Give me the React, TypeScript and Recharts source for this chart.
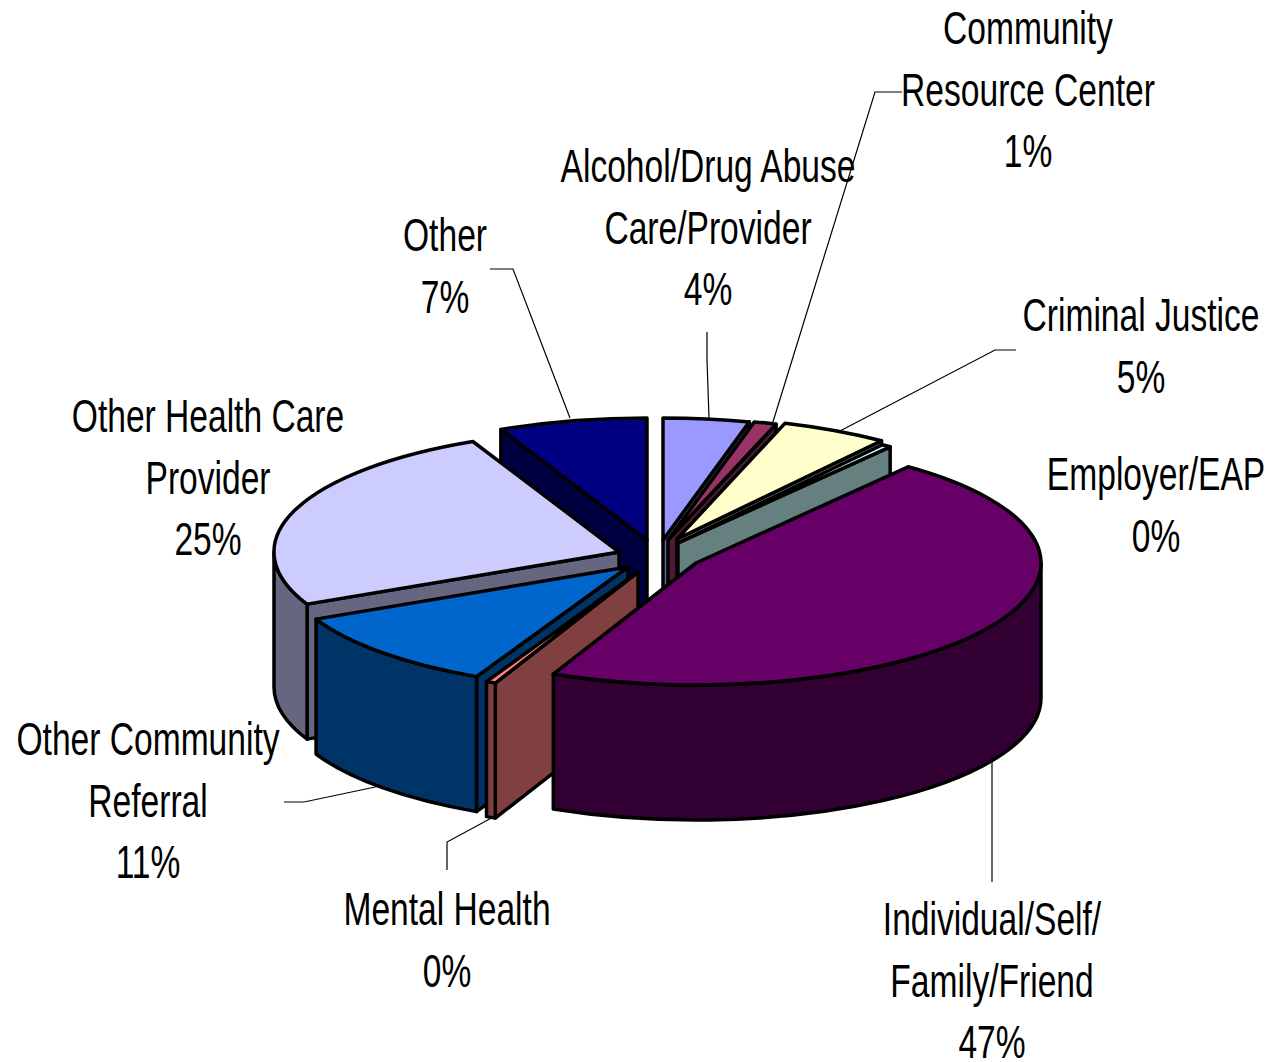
import React from "react";
import { PieChart, Pie } from "recharts";

const categories = ["Alcohol/Drug Abuse Care/Provider", "Community Resource Center", "Criminal Justice", "Employer/EAP", "Individual/Self/Family/Friend", "Mental Health", "Other Community Referral", "Other Health Care Provider", "Other"];
const shares = [4.05, 1.05, 5.05, 0.45, 46.5, 0.45, 10.8, 25.2, 7.0];
const percentLabels = ["4%", "1%", "5%", "0%", "47%", "0%", "11%", "25%", "7%"];
const labelLines = [
  ["Alcohol/Drug Abuse", "Care/Provider"],
  ["Community", "Resource Center"],
  ["Criminal Justice"],
  ["Employer/EAP"],
  ["Individual/Self/", "Family/Friend"],
  ["Mental Health"],
  ["Other Community", "Referral"],
  ["Other Health Care", "Provider"],
  ["Other"],
];
const topColors = ["#9999FF", "#993366", "#FFFFCC", "#CCFFFF", "#660066", "#FF8080", "#0066CC", "#CCCCFF", "#000080"];
const wallColors = ["#666699", "#4D1A33", "#808066", "#668080", "#330033", "#804040", "#003366", "#666680", "#000040"];

// back-to-front painting order of the slices
const paintOrder = [0, 1, 2, 3, 8, 7, 6, 5, 4];
// how far each slice is pulled out of the pie
const explode = [[13, 0], [18, 0], [27, -1], [28, 3], [46, 23], [-12, 32], [-22, 27], [-31, 12], [-3, 0]];
// where each label's first line sits, and its leader line
const labelAnchor = [[708, 182], [1028, 44], [1141, 331], [1156, 490], [992, 935], [447, 925], [148, 755], [208, 432], [445, 251]];
const leaders = [
  "707,332 707,360 709,418",
  "902,92 875,92 772,425",
  "1016,350 995,350 838,432",
  "",
  "992,882 992,757",
  "447,870 447,842 497,815",
  "284,802 304,802 380,786",
  "",
  "490,269 513,269 570,418",
];

const rows = categories.map((name, i) => ({ name, value: shares[i], percent: percentLabels[i] }));

const CX = 650;
const CY = 540;
const RX = 345;
const SQUASH = 122 / 345;
const DEPTH = 135;
const LINE = 61.5;
const RAD = Math.PI / 180;

function Slice(props: any) {
  const { cx, cy, outerRadius, startAngle, endAngle, index } = props;
  const rx = outerRadius;
  const ry = outerRadius * SQUASH;
  const ax = cx + explode[index][0];
  const ay = cy + explode[index][1];
  const pt = (a: number, d = 0): [number, number] => [ax + rx * Math.cos(a * RAD), ay - ry * Math.sin(a * RAD) + d];
  const hi = Math.max(startAngle, endAngle);
  const lo = Math.min(startAngle, endAngle);
  const arc = (from: number, to: number, d: number) => {
    const [x, y] = pt(to, d);
    return `A ${rx} ${ry} 0 ${Math.abs(from - to) > 180 ? 1 : 0} ${to < from ? 1 : 0} ${x} ${y}`;
  };
  const [sx, sy] = pt(hi);
  const top = `M ${ax} ${ay} L ${sx} ${sy} ${arc(hi, lo, 0)} Z`;
  const style = { stroke: "#000", strokeWidth: 3.5, strokeLinejoin: "round" as const };

  const face = (a: number) => {
    const [x, y] = pt(a);
    return `M ${ax} ${ay} L ${x} ${y} L ${x} ${y + DEPTH} L ${ax} ${ay + DEPTH} Z`;
  };
  const faces: string[] = [];
  if (Math.cos(hi * RAD) < 0) faces.push(face(hi));
  if (Math.cos(lo * RAD) > 0) faces.push(face(lo));

  // the outer wall shows only on the front half of the rim
  let wall = "";
  const wHi = Math.min(hi, 0);
  const wLo = Math.max(lo, -180);
  if (wHi > wLo) {
    const [x0, y0] = pt(wHi);
    const [x1, y1] = pt(wLo, DEPTH);
    wall = `M ${x0} ${y0} ${arc(wHi, wLo, 0)} L ${x1} ${y1} ${arc(wLo, wHi, DEPTH)} Z`;
  }
  return (
    <g>
      {faces.map((d, k) => <path key={k} d={d} fill={wallColors[index]} {...style} />)}
      {wall && <path d={wall} fill={wallColors[index]} {...style} />}
      <path d={top} fill={topColors[index]} {...style} />
    </g>
  );
}

function SliceLabel(props: any) {
  const { index } = props;
  const [x, y] = labelAnchor[index];
  const lines = [...labelLines[index], percentLabels[index]];
  return (
    <g>
      {leaders[index] && <polyline points={leaders[index]} fill="none" stroke="#000" strokeWidth={1.2} />}
      {lines.map((t, k) => (
        <text
          key={k}
          transform={`translate(${x} ${y + k * LINE}) scale(0.73 1)`}
          textAnchor="middle"
          fontFamily="'Liberation Sans', Arial, sans-serif"
          fontSize={46}
          fill="#000"
        >
          {t}
        </text>
      ))}
    </g>
  );
}

const pieProps = {
  data: rows,
  dataKey: "value",
  nameKey: "name",
  cx: CX,
  cy: CY,
  innerRadius: 0,
  outerRadius: RX,
  startAngle: 90,
  endAngle: -270,
  stroke: "none",
  isAnimationActive: false,
  labelLine: false,
};

export default function App() {
  return (
    <div style={{ position: "absolute", left: 0, top: 0, width: 1273, height: 1062, background: "#fff" }}>
      <PieChart width={1273} height={1062} margin={{ top: 0, right: 0, bottom: 0, left: 0 }}>
        {paintOrder.map((which) => {
          const draw = (p: any) => (p.index === which ? <Slice {...p} /> : <g />);
          return <Pie key={which} {...pieProps} shape={draw} inactiveShape={draw} activeShape={draw} />;
        })}
        <Pie key="labels" {...pieProps} shape={() => <g />} inactiveShape={() => <g />} activeShape={() => <g />} label={(p: any) => <SliceLabel {...p} />} />
      </PieChart>
    </div>
  );
}
